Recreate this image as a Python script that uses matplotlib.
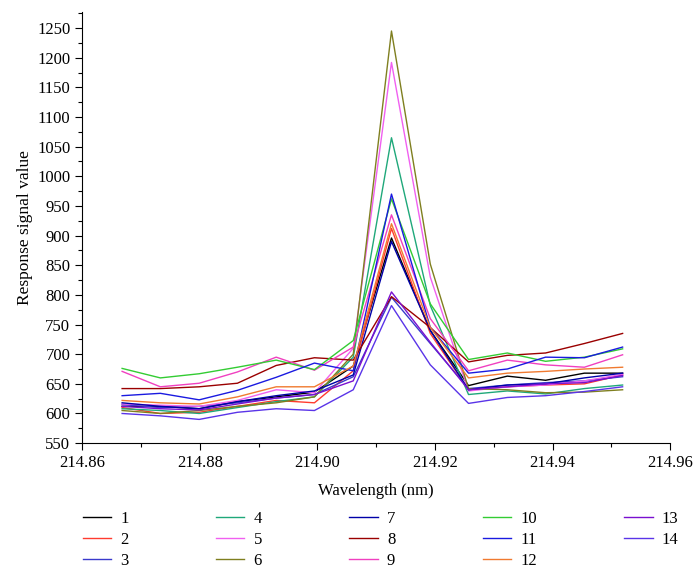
import numpy as np
import matplotlib
matplotlib.use("Agg")
import matplotlib.pyplot as plt
from matplotlib.ticker import MultipleLocator

plt.rcParams['font.family'] = ['Liberation Serif', 'DejaVu Serif']

# wavelength points (nm)
wavelength = [214.8668, 214.8733, 214.8799, 214.8864, 214.8930, 214.8995, 214.9061,
              214.9126, 214.9192, 214.9257, 214.9323, 214.9388, 214.9454, 214.9519]

s1 = [612, 612, 608, 620, 628, 636, 680, 896, 740, 647, 663, 656, 668, 668]
s2 = [610, 600, 602, 612, 622, 618, 672, 912, 735, 640, 645, 648, 650, 665]
s3 = [615, 610, 612, 618, 626, 632, 662, 796, 718, 642, 648, 652, 655, 662]
s4 = [608, 605, 600, 610, 620, 628, 695, 1065, 782, 632, 638, 633, 642, 648]
s5 = [616, 614, 612, 622, 640, 635, 710, 1192, 830, 638, 645, 648, 655, 666]
s6 = [605, 600, 605, 612, 618, 628, 700, 1245, 852, 642, 640, 635, 636, 640]
s7 = [618, 612, 608, 620, 630, 638, 665, 890, 740, 640, 648, 650, 660, 668]
s8 = [642, 642, 645, 651, 681, 694, 690, 797, 745, 687, 698, 702, 718, 735]
s9 = [671, 645, 651, 670, 695, 673, 712, 935, 760, 672, 690, 682, 678, 699]
s10 = [676, 660, 667, 678, 690, 674, 723, 962, 785, 691, 702, 688, 695, 709]
s11 = [630, 634, 623, 639, 661, 685, 672, 970, 745, 668, 675, 695, 694, 712]
s12 = [622, 618, 616, 628, 645, 645, 680, 920, 745, 660, 668, 671, 675, 678]
s13 = [612, 608, 606, 616, 626, 632, 655, 805, 720, 640, 645, 650, 652, 664]
s14 = [600, 596, 590, 602, 608, 605, 640, 782, 682, 617, 627, 630, 637, 645]

series = [s1, s2, s3, s4, s5, s6, s7, s8, s9, s10, s11, s12, s13, s14]
labels = [str(i) for i in range(1, 15)]
colors = ['#000000', '#ff3b2f', '#3a3acc', '#1fa87a', '#f060f0', '#7f7f1f', '#0000a8',
          '#9a0000', '#f040c0', '#33cc33', '#1a1ae0', '#f07a30', '#7a10d0', '#5a34e8']

fig = plt.figure(figsize=(6.96, 5.74), dpi=100)
ax = fig.add_axes([0.118, 0.228, 0.845, 0.751])

for y, lab, c in zip(series, labels, colors):
    ax.plot(wavelength, y, color=c, lw=1.0, label=lab)

ax.set_xlim(214.86, 214.96)
ax.set_ylim(550, 1277)
ax.set_xticks([214.86, 214.88, 214.90, 214.92, 214.94, 214.96])
ax.set_xticklabels(['214.86', '214.88', '214.90', '214.92', '214.94', '214.96'])
ax.xaxis.set_minor_locator(MultipleLocator(0.01))
ax.set_yticks(np.arange(550, 1251, 50))
ax.yaxis.set_minor_locator(MultipleLocator(25))

for side in ['top', 'right']:
    ax.spines[side].set_visible(False)
ax.tick_params(which='major', direction='out', length=5, width=0.8, labelsize=12)
ax.tick_params(which='minor', direction='out', length=3, width=0.8)

ax.set_xlabel('Wavelength (nm)', fontsize=12, labelpad=9)
ax.set_ylabel('Response signal value', fontsize=12.5, labelpad=3)

fig.legend(loc='upper left', bbox_to_anchor=(0.102, 0.13), ncol=5, frameon=False,
           fontsize=12, handlelength=1.7, columnspacing=5.25, labelspacing=0.3,
           handletextpad=0.55, borderpad=0.2)

fig.savefig('out.png', dpi=100)
